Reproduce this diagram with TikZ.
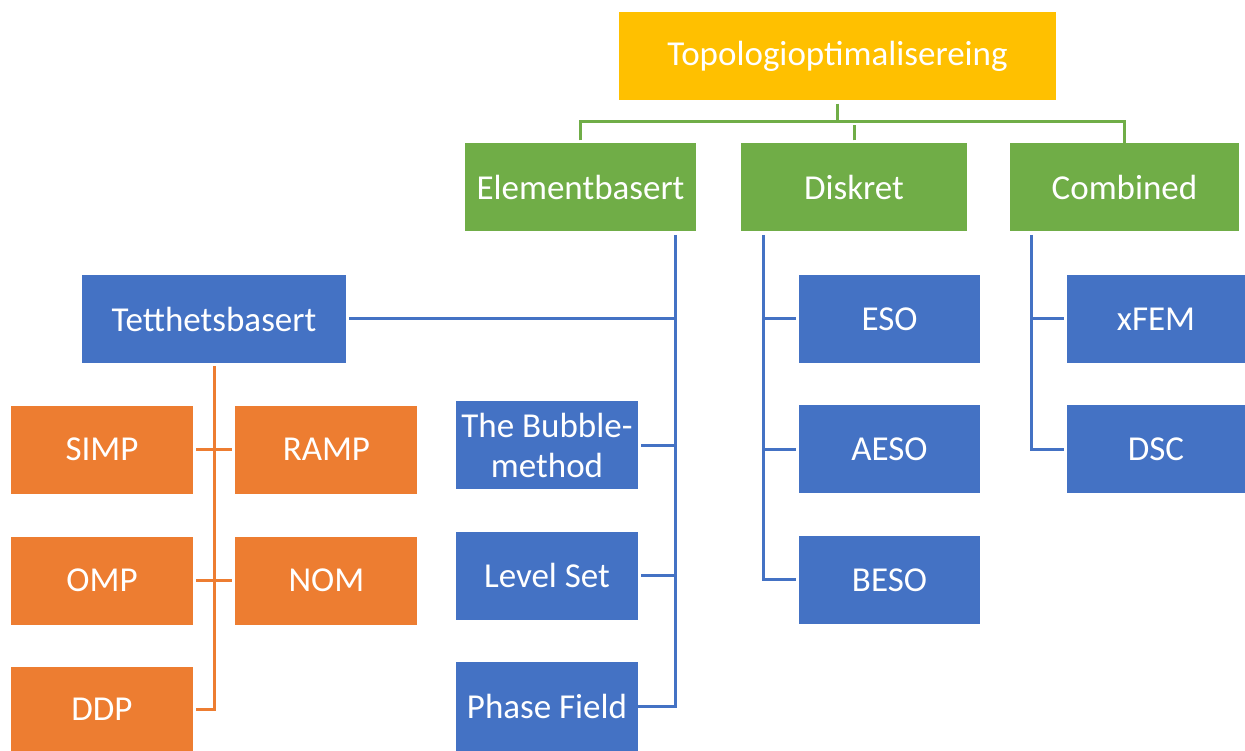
\documentclass[tikz,border=0pt]{standalone}
\usepackage{fontspec}
\setmainfont{Carlito}
\usetikzlibrary{positioning, calc}

\definecolor{topgold}{HTML}{FFC000}
\definecolor{catgreen}{HTML}{70AD47}
\definecolor{methblue}{HTML}{4472C4}
\definecolor{suborange}{HTML}{ED7D31}

\begin{document}
\begin{tikzpicture}[
    x=1pt, y=-1pt,
    box/.style={rectangle, inner sep=0pt, text=white, align=center,
        font=\fontsize{35}{40}\selectfont, minimum height=88pt},
    root/.style={box, fill=topgold, minimum width=437pt},
    cat/.style={box, fill=catgreen, minimum width=229pt},
    meth/.style={box, fill=methblue, minimum width=182pt},
    sub/.style={box, fill=suborange, minimum width=182pt},
    link/.style={line width=3pt, shorten <=3pt, shorten >=3pt},
    glink/.style={link, draw=catgreen},
    blink/.style={link, draw=methblue},
    olink/.style={link, draw=suborange}
]
    \useasboundingbox (0,0) rectangle (1245,751);

    % Top
    \node[root] (top) at (837.5,56.5) {Topologioptimalisereing};

    % Categories
    \node[cat, minimum width=231pt] (elem) at (580.5,187.5) {Elementbasert};
    \node[cat, minimum width=226pt] (disk) at (854,187.5) {Diskret};
    \node[cat] (comb) at (1124.5,187.5) {Combined};

    % Elementbasert
    \node[meth, minimum width=264pt] (tett) at (214,319) {Tetthetsbasert};
    \node[meth] (bubble) at (547,445) {The Bubble-\\method};
    \node[meth] (level) at (547,575.5) {Level Set};
    \node[meth, minimum height=89pt] (phase) at (547,706.5) {Phase Field};

    % Tetthetsbasert
    \node[sub] (simp) at (102,449.5) {SIMP};
    \node[sub, right=42pt of simp] (ramp) {RAMP};
    \node[sub] (omp) at (102,580.5) {OMP};
    \node[sub, right=42pt of omp] (nom) {NOM};
    \node[sub, minimum height=84pt] (ddp) at (102,709) {DDP};

    % Diskret
    \node[meth, minimum width=181pt] (eso) at (889.5,319) {ESO};
    \node[meth, minimum width=181pt, below=42pt of eso] (aeso) {AESO};
    \node[meth, minimum width=181pt, below=42pt of aeso] (beso) {BESO};

    % Combined
    \node[meth, minimum width=178pt] (xfem) at (1156,319) {xFEM};
    \node[meth, minimum width=178pt, below=42pt of xfem] (dsc) {DSC};

    % Green links
    \coordinate (gbus) at (837.5,122);
    \draw[glink, shorten >=0pt] (top.south) -- (gbus);
    \draw[glink, shorten >=0pt] (elem.north) |- (gbus) -| (comb.north);
    \draw[glink] (disk.north) -- (disk.north |- gbus);

    % Blue links, Elementbasert
    \coordinate (ebus) at (675,232);
    \draw[blink, shorten >=0pt] (ebus) |- (phase.east);
    \draw[blink, shorten >=0pt] (tett.east) -- (tett.east -| ebus);
    \draw[blink, shorten >=0pt] (bubble.east) -- (bubble.east -| ebus);
    \draw[blink, shorten >=0pt] (level.east) -- (level.east -| ebus);

    % Blue links, Diskret
    \coordinate (dbus) at (763,232);
    \draw[blink] (dbus) |- (beso.west);
    \draw[blink, shorten <=0pt] (eso.west -| dbus) -- (eso.west);
    \draw[blink, shorten <=0pt] (aeso.west -| dbus) -- (aeso.west);

    % Blue links, Combined
    \coordinate (cbus) at (1031,232);
    \draw[blink] (cbus) |- (dsc.west);
    \draw[blink, shorten <=0pt] (xfem.west -| cbus) -- (xfem.west);

    % Orange links
    \draw[olink] (tett.south) |- (ddp.east);
    \draw[olink] (simp.east) -- (ramp.west);
    \draw[olink] (omp.east) -- (nom.west);

\end{tikzpicture}
\end{document}
